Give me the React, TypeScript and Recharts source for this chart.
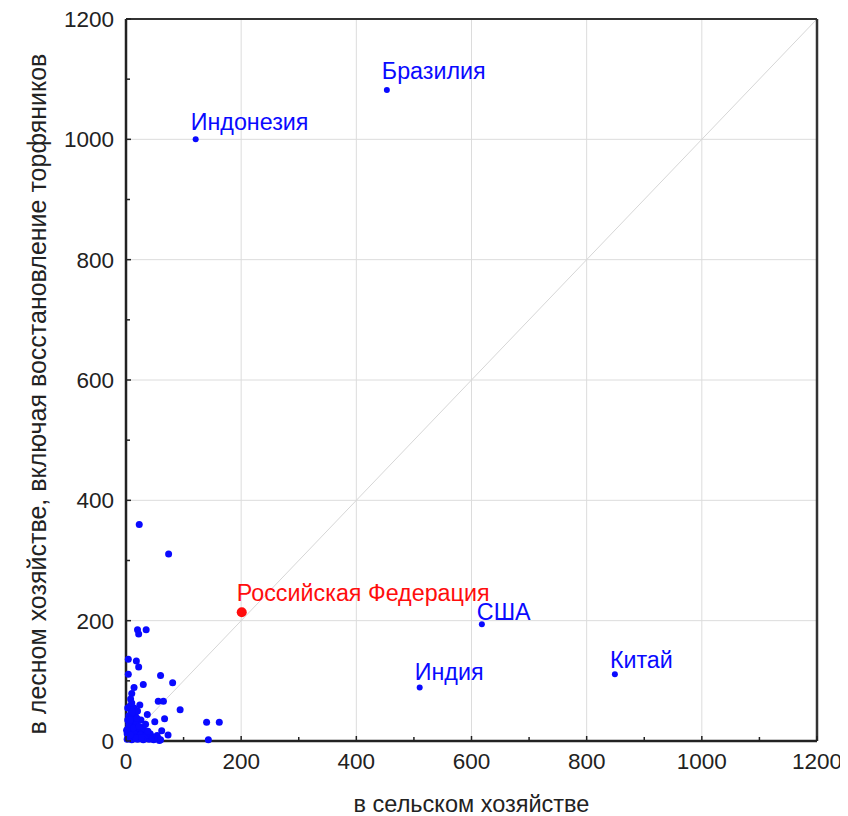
import React from 'react';
import { ScatterChart, Scatter, XAxis, YAxis, ReferenceLine } from 'recharts';

const countryNames = ['Бразилия', 'Индонезия', 'США', 'Индия', 'Китай'];
const countryAgri = [453, 121, 618, 510, 849];
const countryForest = [1082, 1000, 194, 89, 111];

const russiaName = ['Российская Федерация'];
const russiaAgri = [201];
const russiaForest = [214];

const otherAgri = [
  23, 74, 20, 22, 35, 4, 18, 22, 4, 60, 30, 81, 14, 10, 8, 56, 65, 94, 9, 37, 67, 50, 140, 162, 62, 73, 143,
  2, 4, 6, 8, 10, 12, 5, 3, 7, 14, 16, 18, 20, 22, 25, 28, 30, 32, 36, 40, 44, 48, 52, 58, 12, 15, 6, 1, 26, 20, 10, 34, 3, 9, 24,
  5, 10, 15, 20, 25, 30, 35, 42, 46, 54, 56, 60, 2, 3, 5, 7, 11, 13, 17, 19, 23, 27, 8, 38,
];
const otherForest = [
  360, 311, 185, 178, 185, 136, 133, 123, 111, 109, 94, 97, 89, 79, 70, 66, 66, 52, 51, 44, 37, 32, 31, 31, 17, 10, 2,
  3, 8, 14, 22, 30, 38, 42, 55, 58, 55, 45, 28, 18, 10, 4, 14, 22, 6, 12, 3, 8, 2, 5, 1, 4, 12, 26, 18, 35, 50, 63, 28, 35, 46, 60,
  5, 2, 7, 3, 10, 2, 9, 12, 4, 9, 4, 2, 12, 20, 28, 35, 48, 22, 6, 38, 24, 6, 10, 16,
];

const allTicks = [0, 100, 200, 300, 400, 500, 600, 700, 800, 900, 1000, 1100, 1200];
const gridValues = [200, 400, 600, 800, 1000];

const countries = countryNames.map((name, i) => ({ name, x: countryAgri[i], y: countryForest[i] }));
const russia = russiaName.map((name, i) => ({ name, x: russiaAgri[i], y: russiaForest[i] }));
const others = otherAgri.map((x, i) => ({ x, y: otherForest[i] }));

const FONT = '"Liberation Sans", Arial, sans-serif';
const BLUE = '#0a0aff';
const RED = '#ff0d0d';

const labelDy: Record<string, number> = {
  'Бразилия': -11,
  'Индонезия': -9,
  'США': -4,
  'Индия': -7,
  'Китай': -6,
  'Российская Федерация': -11,
};

const XTick = (props: any) => {
  const { x, y, payload } = props;
  const major = payload.value % 200 === 0;
  return (
    <g>
      <line x1={x} y1={y} x2={x} y2={y - (major ? 5 : 4)} stroke="#222" strokeWidth={1.5} />
      {major && (
        <text x={x} y={y + 28} textAnchor="middle" fontFamily={FONT} fontSize={22.5} fill="#222">
          {payload.value}
        </text>
      )}
    </g>
  );
};

const YTick = (props: any) => {
  const { x, y, payload } = props;
  const major = payload.value % 200 === 0;
  return (
    <g>
      <line x1={x} y1={y} x2={x + (major ? 5 : 4)} y2={y} stroke="#222" strokeWidth={1.5} />
      {major && (
        <text x={x - 12} y={y + 8} textAnchor="end" fontFamily={FONT} fontSize={22.5} fill="#222">
          {payload.value}
        </text>
      )}
    </g>
  );
};

const smallDot = (color: string, r: number) => (props: any) => {
  const { cx, cy, payload } = props;
  return (
    <g>
      <circle cx={cx} cy={cy} r={r} fill={color} />
      {payload && payload.name && (
        <text
          x={cx - 5}
          y={cy + (labelDy[payload.name] ?? -8)}
          fontFamily={FONT}
          fontSize={23.3}
          fill={color}
        >
          {payload.name}
        </text>
      )}
    </g>
  );
};

export default function App() {
  return (
    <div style={{ width: 840, height: 808 }}>
      <ScatterChart width={840} height={808} margin={{ top: 11, right: 31, left: 0, bottom: 0 }}>
        <XAxis
          type="number"
          dataKey="x"
          domain={[0, 1200]}
          ticks={allTicks}
          interval={0}
          tickSize={0}
          tickMargin={0}
          height={75}
          axisLine={{ stroke: '#222', strokeWidth: 2.5 }}
          tick={<XTick />}
          label={(p: any) => {
            const vb = p.viewBox;
            return (
              <text
                x={vb.x + vb.width / 2}
                y={vb.y + 71}
                textAnchor="middle"
                fontFamily={FONT}
                fontSize={23.5}
                fill="#222"
              >
                в сельском хозяйстве
              </text>
            );
          }}
        />
        <YAxis
          type="number"
          dataKey="y"
          domain={[0, 1200]}
          ticks={allTicks}
          interval={0}
          tickSize={0}
          tickMargin={0}
          width={118}
          axisLine={{ stroke: '#222', strokeWidth: 2.5 }}
          tick={<YTick />}
          label={(p: any) => {
            const vb = p.viewBox;
            const cx = vb.x + 29;
            const cy = vb.y + vb.height / 2 + 14;
            return (
              <text
                x={cx}
                y={cy}
                transform={`rotate(-90, ${cx}, ${cy})`}
                textAnchor="middle"
                dominantBaseline="central"
                fontFamily={FONT}
                fontSize={25}
                fill="#222"
              >
                в лесном хозяйстве, включая восстановление торфяников
              </text>
            );
          }}
        />
        {gridValues.map((v) => (
          <ReferenceLine key={'gx' + v} x={v} stroke="#dcdcdc" strokeWidth={1} />
        ))}
        {gridValues.map((v) => (
          <ReferenceLine key={'gy' + v} y={v} stroke="#dcdcdc" strokeWidth={1} />
        ))}
        <ReferenceLine
          segment={[
            { x: 0, y: 0 },
            { x: 1200, y: 1200 },
          ]}
          stroke="#d6d6d6"
          strokeWidth={1}
        />
        <ReferenceLine y={1200} stroke="#333" strokeWidth={2} />
        <ReferenceLine x={1200} stroke="#333" strokeWidth={2.5} />
        <Scatter data={others} isAnimationActive={false} shape={smallDot(BLUE, 3.5)} />
        <Scatter data={countries} isAnimationActive={false} shape={smallDot(BLUE, 3)} />
        <Scatter data={russia} isAnimationActive={false} shape={smallDot(RED, 5)} />
      </ScatterChart>
    </div>
  );
}
